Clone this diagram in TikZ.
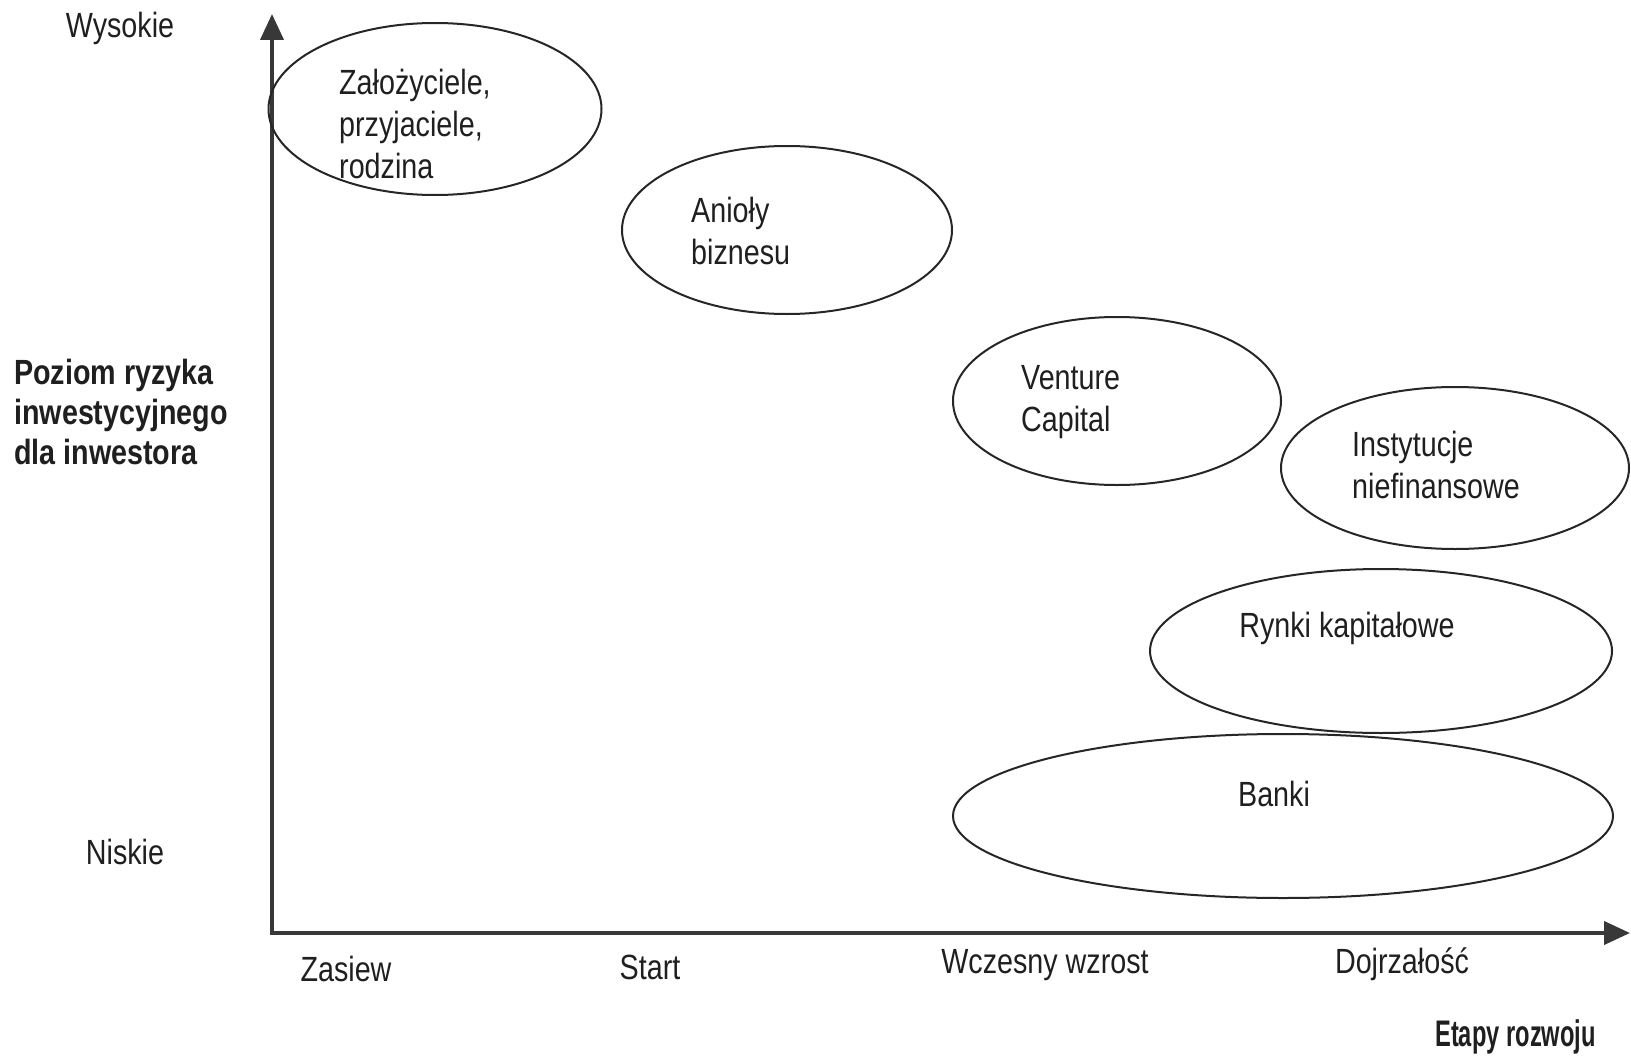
\documentclass[tikz,border=0pt]{standalone}
\usepackage{fontspec}
\setmainfont{Liberation Sans}[FakeStretch=0.82]
\newfontfamily\etapfont{Liberation Sans}[FakeStretch=0.64]
\usetikzlibrary{shapes.geometric,arrows.meta}
\begin{document}
\begin{tikzpicture}[x=1pt,y=-1pt,
  ink/.style={text=black!88},
  lbl/.style={ink,font=\fontsize{35}{41.6}\selectfont,inner sep=0pt},
  blbl/.style={ink,font=\fontsize{35}{40}\selectfont\bfseries,inner sep=0pt},
  oval/.style={draw=black!85,line width=2pt,ellipse,inner sep=0pt},
  axis/.style={draw=black!78,line width=4pt,-{Triangle[width=23pt,length=26pt]}}
]
\useasboundingbox (0,0) rectangle (1631,1057);
% axes
\coordinate (O) at (272,933);
\coordinate (ytop) at (272,14);
\coordinate (xend) at (1630,933);
\draw[axis] ([yshift=2pt]O) -- (ytop);
\draw[axis] ([xshift=-2pt]O) -- (xend);
% axis labels
\node[lbl] (wys) at (120,28) {Wysokie};
\node[lbl] (nis) at (125,852) {Niskie};
\node[blbl,anchor=west,align=left] (poz) at (14,412) {Poziom ryzyka\\inwestycyjnego\\dla inwestora};
\node[lbl] (zas) at (346,969) {Zasiew};
\node[lbl] (sta) at (650,967) {Start};
\node[lbl] (wcz) at (1045,965) {Wczesny wzrost};
\node[lbl] (doj) at (1402,964) {Dojrzałość};
\node[ink,inner sep=0pt,font=\etapfont\fontsize{37}{40}\selectfont\bfseries,anchor=east] (eta) at (1596,1037) {Etapy rozwoju};
% ellipses
\node[oval,minimum width=333pt,minimum height=172pt] (e1) at (435,109) {};
\node[oval,minimum width=330pt,minimum height=168pt] (e2) at (787,230) {};
\node[oval,minimum width=328pt,minimum height=168pt] (e3) at (1117,401) {};
\node[oval,minimum width=348pt,minimum height=162pt] (e4) at (1455,468) {};
\node[oval,minimum width=462pt,minimum height=164pt] (e5) at (1381,651) {};
\node[oval,minimum width=660pt,minimum height=164pt] (e6) at (1283,816) {};
% ellipse texts
\node[lbl,anchor=west,align=left] (t1) at (339,124) {Założyciele,\\przyjaciele,\\rodzina};
\node[lbl,anchor=west,align=left] (t2) at (691,231) {Anioły\\biznesu};
\node[lbl,anchor=west,align=left] (t3) at (1021,402) {Venture\\Capital};
\node[lbl,anchor=west,align=left] (t4) at (1352,465) {Instytucje\\niefinansowe};
\node[lbl] (t5) at (1347,628) {Rynki kapitałowe};
\node[lbl] (t6) at (1274,794) {Banki};
\end{tikzpicture}
\end{document}
